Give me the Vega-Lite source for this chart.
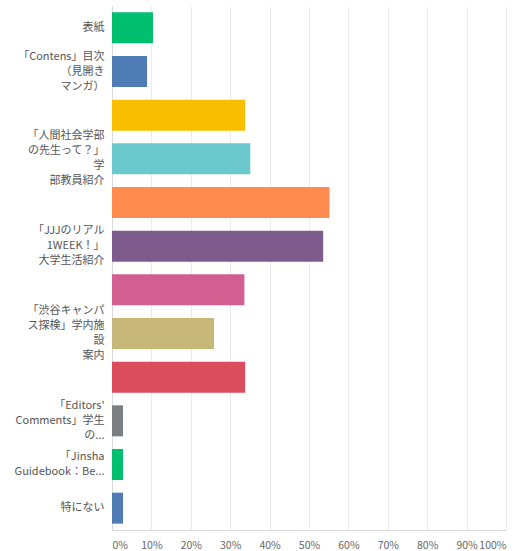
{
  "$schema": "https://vega.github.io/schema/vega-lite/v6.json",
  "autosize": {"type": "none"},
  "width": 394,
  "height": 524,
  "padding": {"left": 112, "top": 6, "right": 18, "bottom": 21},
  "background": "#ffffff",
  "config": {
    "view": {"stroke": null},
    "font": "Noto Sans CJK JP"
  },
  "data": {
    "values": [
      {"item": "表紙", "pct": 10.4},
      {"item": "「Contens」目次\n（見開き\nマンガ）", "pct": 8.9},
      {"item": " ", "pct": 33.8},
      {"item": "「人間社会学部\nの先生って？」\n学\n部教員紹介", "pct": 35.1},
      {"item": "  ", "pct": 55.2},
      {"item": "「JJJのリアル\n1WEEK！」\n大学生活紹介", "pct": 53.6},
      {"item": "   ", "pct": 33.6},
      {"item": "「渋谷キャンパ\nス探検」学内施\n設\n案内", "pct": 25.9},
      {"item": "    ", "pct": 33.8},
      {"item": "「Editors'\nComments」学生\nの...", "pct": 2.8},
      {"item": "「Jinsha\nGuidebook：Be...", "pct": 2.8},
      {"item": "特にない", "pct": 2.8}
    ]
  },
  "mark": {"type": "bar"},
  "encoding": {
    "y": {
      "field": "item",
      "type": "nominal",
      "sort": null,
      "scale": {"paddingInner": 0.29, "paddingOuter": 0.145},
      "axis": {
        "title": null,
        "ticks": false,
        "domainColor": "#d9d9d9",
        "labelColor": "#555555",
        "labelFontSize": 11,
        "labelPadding": 8,
        "labelLineHeight": 15,
        "labelLimit": 200,
        "labelOverlap": false,
        "labelOffset": {"expr": "-(length(split(datum.label, '\\n')) - 1) * 7.5"},
        "labelExpr": "split(datum.label, '\\n')"
      }
    },
    "x": {
      "field": "pct",
      "type": "quantitative",
      "scale": {"domain": [0, 100], "nice": false},
      "axis": {
        "title": null,
        "values": [0, 10, 20, 30, 40, 50, 60, 70, 80, 90, 100],
        "labelExpr": "datum.value + '%'",
        "ticks": false,
        "labelFlush": true,
        "labelOverlap": false,
        "labelPadding": 10,
        "labelColor": "#666666",
        "labelFontSize": 10.5,
        "domainColor": "#d9d9d9",
        "gridColor": "#ebebeb"
      }
    },
    "color": {
      "field": "item",
      "type": "nominal",
      "sort": null,
      "legend": null,
      "scale": {
        "range": ["#00BF6F", "#507CB6", "#F9BE00", "#6BC8CD", "#FF8B4F", "#7D5B8D", "#D25F90", "#C7B879", "#DB4D5C", "#7A7F84", "#00BF6F", "#507CB6"]
      }
    }
  }
}
